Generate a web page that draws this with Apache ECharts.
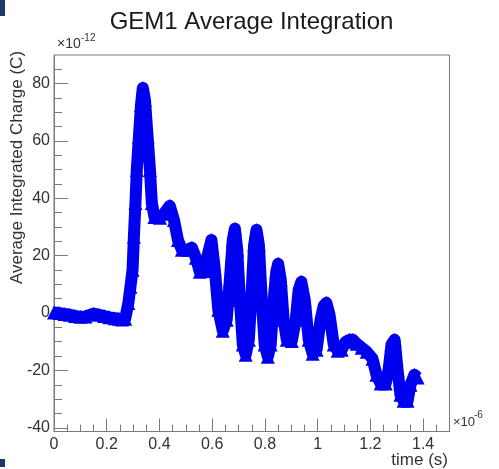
<!DOCTYPE html>
<html>
<head>
<meta charset="utf-8">
<script src="https://cdn.jsdelivr.net/npm/echarts@6/dist/echarts.min.js"></script>
<style>
html,body{margin:0;padding:0;background:#fff;}
#c{width:499px;height:469px;}
</style>
</head>
<body>
<div id="c"></div>
<script>
// time in units of 1e-6 s
const timeValues = [0.000,0.020,0.040,0.060,0.080,0.100,0.120,0.150,0.170,0.190,0.210,0.230,0.245,0.258,0.270,0.282,0.290,0.298,0.303,0.309,0.314,0.322,0.330,0.337,0.345,0.355,0.364,0.371,0.381,0.402,0.417,0.439,0.455,0.470,0.485,0.508,0.523,0.538,0.553,0.572,0.583,0.597,0.610,0.623,0.640,0.655,0.667,0.678,0.686,0.695,0.705,0.716,0.727,0.739,0.750,0.759,0.768,0.777,0.788,0.799,0.811,0.822,0.833,0.843,0.850,0.860,0.871,0.883,0.902,0.917,0.928,0.938,0.951,0.966,0.981,0.996,1.011,1.023,1.033,1.045,1.061,1.076,1.091,1.106,1.121,1.134,1.148,1.167,1.186,1.208,1.223,1.239,1.258,1.269,1.280,1.292,1.303,1.314,1.326,1.341,1.352,1.367,1.379];
// charge in units of 1e-12 C
const chargeValues = [0.2,0.0,-0.3,-0.6,-1.0,-1.3,-1.2,-0.2,-0.6,-1.0,-1.5,-1.8,-2.0,-2.2,-2.0,3.5,9.2,15.1,26.6,38.4,49.9,61.4,72.6,78.5,74.3,61.4,49.9,38.4,33.5,33.2,34.6,37.4,32.5,25.5,22.1,22.1,22.8,19.3,14.4,14.7,20.3,25.5,15.1,1.2,-6.2,-2.3,11.6,25.5,29.4,22.1,4.6,-11.0,-14.5,-9.3,8.1,23.8,29.0,23.8,4.6,-11.0,-15.2,-11.0,4.6,14.4,17.2,11.6,-2.3,-9.3,-9.7,-2.3,8.1,10.9,4.6,-9.3,-14.2,-12.8,-2.3,2.5,3.6,-0.6,-11.0,-13.1,-12.8,-10.0,-9.3,-9.3,-10.7,-12.1,-13.5,-15.9,-21.5,-24.6,-24.6,-19.8,-11.0,-9.3,-19.8,-28.5,-30.6,-30.6,-25.0,-21.5,-22.5];
const yMajorTicks = [-40,-20,0,20,40,60,80];
const yMinorTicks = [-35,-30,-25,-15,-10,-5,5,10,15,25,30,35,45,50,55,65,70,75,85];

const titleText = 'GEM1 Average Integration';
const yTitle = 'Average Integrated Charge (C)';
const xTitle = 'time (s)';

const data = timeValues.map((t, i) => [t, chargeValues[i]]);
const frameColor = '#7a7a7a';
const labelColor = '#333';
const blue = '#0000f0';
const font = 'Liberation Sans, Arial, sans-serif';

const chart = echarts.init(document.getElementById('c'), null, {renderer: 'canvas'});
chart.setOption({
  animation: false,
  backgroundColor: '#fff',
  grid: {left: 54, top: 55, width: 395.5, height: 376.5, show: true, borderColor: frameColor, borderWidth: 1, backgroundColor: 'transparent'},
  xAxis: {
    type: 'value', min: 0, max: 1.5, interval: 0.2,
    axisLine: {show: true, onZero: false, lineStyle: {color: frameColor, width: 1}},
    axisTick: {show: true, inside: true, length: 13, lineStyle: {color: frameColor}},
    minorTick: {show: true, splitNumber: 4, length: 7, lineStyle: {color: frameColor}},
    splitLine: {show: false},
    axisLabel: {color: labelColor, fontSize: 16, fontFamily: font, margin: 5, showMaxLabel: false,
      formatter: v => String(Math.round(v * 10) / 10)}
  },
  yAxis: [{
    type: 'value', min: -41.3, max: 90,
    axisLine: {show: true, onZero: false, lineStyle: {color: frameColor, width: 1}},
    axisTick: {show: true, inside: true, length: 14, lineStyle: {color: frameColor}, customValues: yMajorTicks},
    splitLine: {show: false},
    axisLabel: {color: labelColor, fontSize: 16, fontFamily: font, margin: 4, customValues: yMajorTicks}
  }, {
    type: 'value', min: -41.3, max: 90, position: 'left', offset: 0,
    axisLine: {show: false, onZero: false},
    axisTick: {show: true, inside: true, length: 8, lineStyle: {color: frameColor}, customValues: yMinorTicks},
    splitLine: {show: false},
    axisLabel: {show: false}
  }],
  series: [{
    type: 'line',
    data: data,
    yAxisIndex: 0,
    symbol: 'triangle',
    symbolSize: 14,
    showSymbol: true,
    showAllSymbol: true,
    lineStyle: {color: blue, width: 12, join: 'round'},
    itemStyle: {color: blue},
    emphasis: {disabled: true},
    z: 3
  }],
  graphic: [
    {type: 'rect', left: 0, top: 0, shape: {width: 5, height: 16}, style: {fill: '#1c3768'}},
    {type: 'rect', left: 0, top: 459, shape: {width: 5, height: 8}, style: {fill: '#1c3768'}},
    {type: 'text', x: 251.5, y: 22, style: {text: titleText, fontSize: 24, fontFamily: font, fill: '#1a1a1a', align: 'center', verticalAlign: 'middle'}},
    {type: 'text', x: 17, y: 167.5, rotation: Math.PI / 2, style: {text: yTitle, fontSize: 17, fontFamily: font, fill: labelColor, align: 'center', verticalAlign: 'middle'}},
    {type: 'text', x: 448, y: 452, style: {text: xTitle, fontSize: 17, fontFamily: font, fill: labelColor, align: 'right', verticalAlign: 'top'}},
    {type: 'text', x: 57, y: 44, style: {text: '×10', fontSize: 14, fontFamily: font, fill: labelColor, align: 'left', verticalAlign: 'middle'}},
    {type: 'text', x: 81, y: 38, style: {text: '-12', fontSize: 10, fontFamily: font, fill: labelColor, align: 'left', verticalAlign: 'middle'}},
    {type: 'text', x: 453, y: 422, style: {text: '×10', fontSize: 13, fontFamily: font, fill: labelColor, align: 'left', verticalAlign: 'middle'}},
    {type: 'text', x: 474, y: 415, style: {text: '-6', fontSize: 10, fontFamily: font, fill: labelColor, align: 'left', verticalAlign: 'middle'}}
  ]
});
</script>
</body>
</html>
